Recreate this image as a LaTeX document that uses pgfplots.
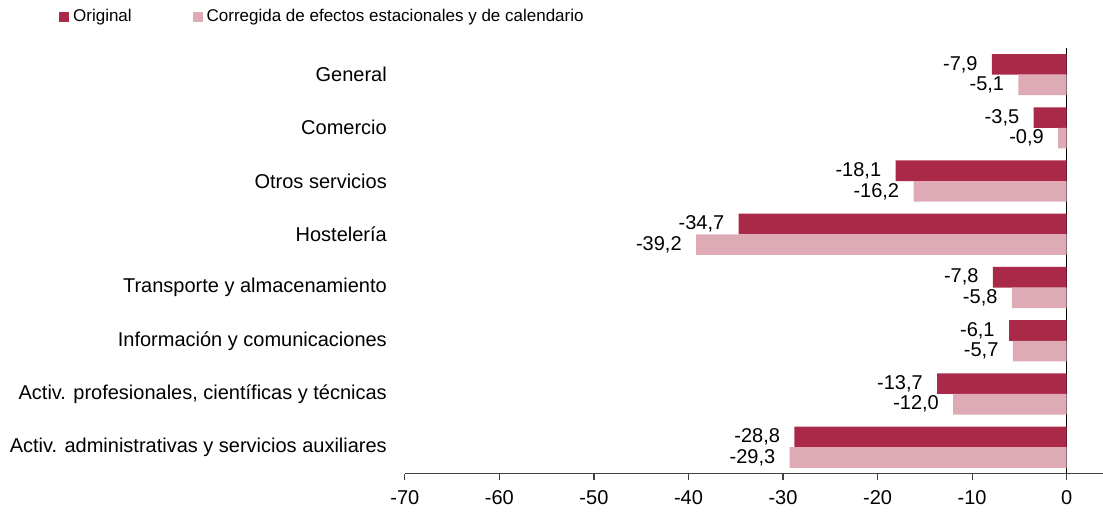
\documentclass[border=0pt]{standalone}
\usepackage{pgfplots}
\pgfplotsset{compat=1.18}
\usepackage{fontspec}
\setmainfont{Liberation Sans}
\definecolor{cDark}{RGB}{170,41,72}
\definecolor{cLight}{RGB}{222,170,182}
\begin{document}
\begin{tikzpicture}
\begin{axis}[
  name=ax,
  scale only axis,
  width=349pt, height=213pt,
  xbar, bar width=10.3pt,
  xmin=-70, xmax=3.8,
  ymin=-0.5, ymax=7.5,
  axis x line*=bottom,
  axis y line*=left,
  x axis line style={-, draw=black!75},
  y axis line style={draw=none},
  xtick={-70,-60,...,0},
  xtick style={draw=black!75, line width=0.6pt},
  major tick length=3pt,
  tick align=outside,
  x tick label style={font=\fontsize{10}{12}\selectfont, yshift=-2pt},
  /pgf/number format/assume math mode=true,
  ytick={0,...,7},
  yticklabels={Activ. administrativas y servicios auxiliares,Activ. profesionales{,} científicas y técnicas,Información y comunicaciones,Transporte y almacenamiento,Hostelería,Otros servicios,Comercio,General},
  y tick label style={font=\fontsize{10}{12}\selectfont, xshift=-2.5pt},
  ytick style={draw=none},
  extra x ticks={0},
  extra x tick labels={},
  extra x tick style={grid=major, major grid style={draw=black, line width=0.6pt}},
  nodes near coords,
  point meta=x,
  nodes near coords style={font=\fontsize{10}{12}\selectfont, anchor=east, inner sep=1.5pt, xshift=-5.5pt,
    /pgf/number format/fixed, /pgf/number format/fixed zerofill, /pgf/number format/precision=1, /pgf/number format/use comma},
  legend columns=2,
  legend style={draw=none, fill=none, font=\fontsize{8.5}{10}\selectfont, at={(-0.496,1.073)}, anchor=west, inner sep=0pt,
    /tikz/every even column/.append style={column sep=28.5pt}},
  legend cell align=left,
  legend image code/.code={\fill[#1] (0pt,-2.5pt) rectangle (5pt,2.5pt);},
]
\addplot[fill=cDark, draw=none, bar shift=5.15pt] coordinates {
 (-28.8,0) (-13.7,1) (-6.1,2) (-7.8,3) (-34.7,4) (-18.1,5) (-3.5,6) (-7.9,7)};
\addplot[fill=cLight, draw=none, bar shift=-5.15pt] coordinates {
 (-29.3,0) (-12.0,1) (-5.7,2) (-5.8,3) (-39.2,4) (-16.2,5) (-0.9,6) (-5.1,7)};
\legend{Original, Corregida de efectos estacionales y de calendario}
\end{axis}
\path (ax.south west) ++(-202.5pt,-17pt) coordinate (bl);
\path (ax.south west) ++(349pt,237pt) coordinate (tr);
\useasboundingbox (bl) rectangle (tr);
\end{tikzpicture}
\end{document}
